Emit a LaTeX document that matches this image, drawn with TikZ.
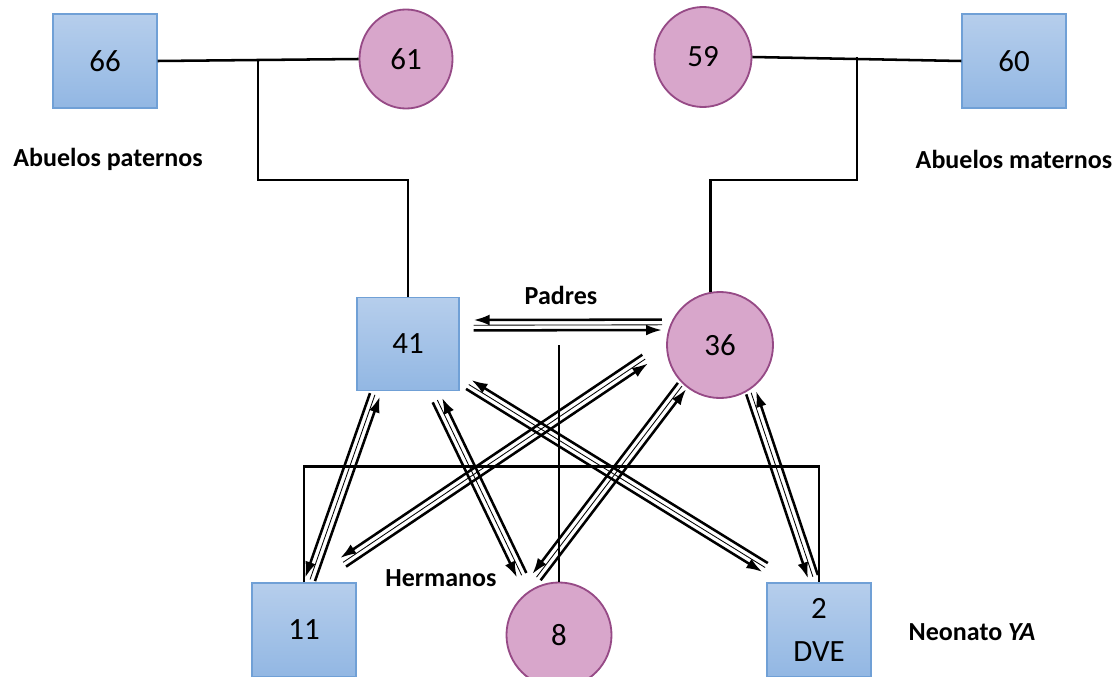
\documentclass[tikz,border=0pt]{standalone}
\usepackage{fontspec}
\setmainfont{Carlito}
\usepackage{tikz}
\usetikzlibrary{shapes.geometric,arrows.meta,calc}
\definecolor{sqTop}{RGB}{182,206,236}
\definecolor{sqBot}{RGB}{146,183,227}
\definecolor{sqLine}{RGB}{112,160,214}
\definecolor{circFill}{RGB}{216,166,203}
\definecolor{circLine}{RGB}{150,74,134}
\tikzset{
  sq/.style={draw=sqLine,line width=0.8pt,top color=sqTop,bottom color=sqBot,
             minimum width=2.6cm,minimum height=2.35cm,inner sep=0pt,
             font=\fontsize{22}{26}\selectfont,align=center},
  circ/.style={ellipse,draw=circLine,line width=1.3pt,fill=circFill,inner sep=0pt,
               font=\fontsize{22}{26}\selectfont},
  lbl/.style={font=\fontsize{18.5}{22}\selectfont\bfseries},
  lin/.style={line width=1.8pt},
  arr/.style={-{Latex[length=0.4cm,width=0.27cm]},line width=1.8pt},
}
% two opposite arrows between #1 and #2, gaps #3 / #4
\newcommand{\flechas}[4]{%
  \draw[arr,shorten <=#3,shorten >=#4] ($(#1)!0.13cm!-90:(#2)$) -- ($(#2)!0.13cm!90:(#1)$);
  \draw[arr,shorten <=#4,shorten >=#3] ($(#2)!0.13cm!-90:(#1)$) -- ($(#1)!0.13cm!90:(#2)$);
  \draw[line width=0.6pt,shorten <=#3,shorten >=#4] (#1) -- (#2);
}

\begin{document}
\begin{tikzpicture}[x=0.025cm,y=-0.025cm]
  \useasboundingbox (0,0) rectangle (1120,677);
  \clip (0,0) rectangle (1120,677);

  % abuelos
  \node[sq] (n66) at (105,61) {66};
  \node[circ,minimum width=2.325cm,minimum height=2.475cm] (n61) at (406,59) {61};
  \node[circ,minimum width=2.425cm,minimum height=2.5cm] (n59) at (703,57) {59};
  \node[sq] (n60) at (1014,61) {60};
  \node[lbl] (pat) at (108,159) {Abuelos paternos};
  \node[lbl] (mat) at (1014,159) {Abuelos maternos};

  % padres
  \node[sq,minimum width=2.55cm,minimum height=2.325cm] (n41) at (408,344) {41};
  \node[circ,minimum size=2.65cm] (n36) at (720,345) {36};
  \node[lbl] (padres) at (561,295) {Padres};

  % hijos
  \node[sq] (n11) at (304,630) {11};
  \node[circ,minimum size=2.625cm] (n8) at (559,635) {8};
  \node[sq] (n2) at (819,630) {2\\[4pt]DVE};
  \node[lbl] (herm) at (441,578) {Hermanos};
  \node[lbl] (neo) at (972,632) {Neonato \textit{YA}};

  \coordinate (cPat) at (258,60);
  \coordinate (cMat) at (857,57);
  \coordinate (cHerm) at (559,345);

  \draw[lin] (n66.east) -- (n61.west);
  \draw[lin] (cPat) -- ++(0,120) -| (n41.north);
  \draw[lin] (n59.east) -- (n60.west);
  \draw[lin] (cMat) -- ++(0,123) -| (n36.100);
  \draw[lin] (n11.north) -- ++(0,-116) -| (n2.north);
  \draw[lin] (cHerm) -- (n8.north);

  \flechas{n41.20}{n36.158}{0.35cm}{0.2cm}
  \flechas{n41.-124}{n11.84}{0.1cm}{0.08cm}
  \flechas{n41.-62}{n8.124}{0.25cm}{0.43cm}
  \flechas{n41.-34}{n2.122}{0.27cm}{0.71cm}
  \flechas{n36.180}{n11.79}{0.63cm}{0.9cm}
  \flechas{n36.-133}{n8.135}{0.05cm}{0.63cm}
  \flechas{n36.-56}{n2.95}{0.08cm}{0.15cm}
\end{tikzpicture}
\end{document}
